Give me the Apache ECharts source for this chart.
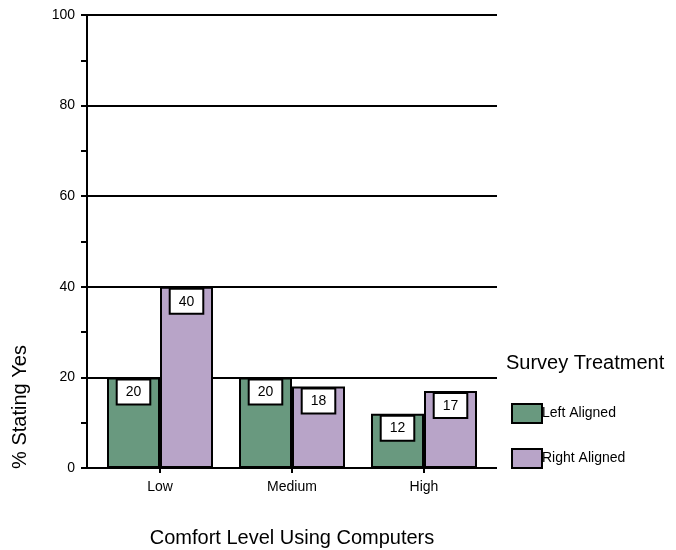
<!DOCTYPE html>
<html>
<head>
<meta charset="utf-8">
<script src="https://cdn.jsdelivr.net/npm/echarts@6/dist/echarts.min.js"></script>
<style>
  html, body { margin: 0; padding: 0; background: #fff; }
  #chart { width: 676px; height: 550px; }
</style>
</head>
<body>
<div id="chart"></div>
<script>
// data
const categories = ['Low', 'Medium', 'High'];
const leftAligned = [20, 20, 12];
const rightAligned = [40, 18, 17];

const FONT = 'Arial, "Liberation Sans", sans-serif';

const chart = echarts.init(document.getElementById('chart'));

// box label shown on top of each bar
const boxLabel = {
  show: true,
  position: 'insideTop',
  distance: 3,
  color: '#000',
  fontFamily: FONT,
  fontSize: 14,
  backgroundColor: '#fff',
  borderColor: '#000',
  borderWidth: 2,
  padding: [5, 8, 4, 8]
};

const options = {
  animation: false,
  textStyle: { fontFamily: FONT },
  title: {
    text: 'Survey Treatment',
    left: 506,
    top: 353,
    padding: 0,
    textStyle: { fontFamily: FONT, fontSize: 20, fontWeight: 'normal', color: '#000' }
  },
  legend: {
    orient: 'vertical',
    left: 511,
    top: 403,
    padding: 0,
    icon: 'rect',
    itemWidth: 30,
    itemHeight: 19,
    itemGap: 24,
    textStyle: { fontFamily: FONT, fontSize: 14, color: '#000', padding: [0, 0, 0, -5] },
    data: ['Left Aligned', 'Right Aligned']
  },
  // grid 0: y axis + gridlines, grid 1: the bars
  grid: [
    { left: 87, right: 179, top: 15, bottom: 82 },
    { left: 94, right: 186, top: 15, bottom: 82 }
  ],
  xAxis: [
    { type: 'value', gridIndex: 0, min: 0, max: 1, show: false },
    {
      type: 'category',
      gridIndex: 1,
      data: categories,
      axisLine: { show: false },
      axisTick: { show: true, alignWithLabel: true, length: 5, lineStyle: { color: '#000', width: 2 } },
      axisLabel: { color: '#000', fontSize: 14, margin: 12 }
    }
  ],
  yAxis: [
    {
      type: 'value',
      gridIndex: 0,
      min: 0,
      max: 100,
      interval: 20,
      axisLine: { show: true, lineStyle: { color: '#000', width: 2 } },
      axisTick: { show: true, length: 6, lineStyle: { color: '#000', width: 2 } },
      minorTick: { show: true, splitNumber: 2, length: 6, lineStyle: { color: '#000', width: 2 } },
      splitLine: { show: true, lineStyle: { color: '#000', width: 2 } },
      axisLabel: { color: '#000', fontSize: 14, margin: 12 }
    },
    { type: 'value', gridIndex: 1, min: 0, max: 100, show: false }
  ],
  graphic: [
    {
      type: 'text',
      x: 20,
      y: 407,
      rotation: Math.PI / 2,
      style: { text: '% Stating Yes', fontFamily: FONT, fontSize: 20, fill: '#000', textAlign: 'center', textVerticalAlign: 'middle' }
    },
    {
      type: 'text',
      x: 292,
      y: 538,
      style: { text: 'Comfort Level Using Computers', fontFamily: FONT, fontSize: 20, fill: '#000', textAlign: 'center', textVerticalAlign: 'middle' }
    }
  ],
  series: [
    {
      name: 'Left Aligned',
      type: 'bar',
      xAxisIndex: 1,
      yAxisIndex: 1,
      barWidth: 53,
      barGap: '0%',
      itemStyle: { color: '#69997f', borderColor: '#000', borderWidth: 2 },
      label: boxLabel,
      data: leftAligned
    },
    {
      name: 'Right Aligned',
      type: 'bar',
      xAxisIndex: 1,
      yAxisIndex: 1,
      barWidth: 53,
      barGap: '0%',
      itemStyle: { color: '#b8a4c8', borderColor: '#000', borderWidth: 2 },
      label: boxLabel,
      data: rightAligned
    }
  ]
};

chart.setOption(options);
</script>
</body>
</html>
